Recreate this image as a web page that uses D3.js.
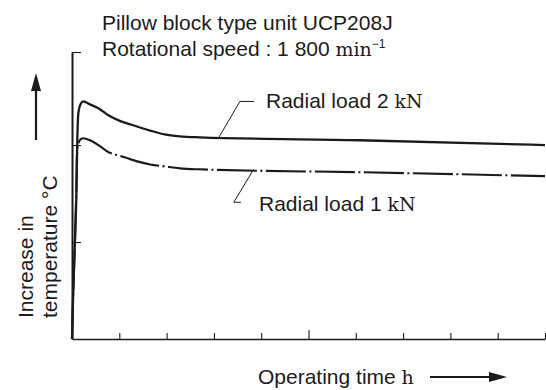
<!DOCTYPE html>
<html>
<head>
<meta charset="utf-8">
<script src="https://cdn.jsdelivr.net/npm/d3@7"></script>
<style>
  html, body { margin: 0; padding: 0; background: #fff; }
  svg { display: block; }
  .sans { font-family: "Liberation Sans", Arial, Helvetica, sans-serif; }
  .serif { font-family: "DejaVu Serif", "Liberation Serif", serif; }
</style>
</head>
<body>
<svg id="chart" width="546" height="390"></svg>
<script>
// Operating time (arbitrary units, 10 tick intervals)
const timeTicks = d3.range(0, 11);
// Temperature rise (arbitrary units); top of axis at 29.6
const tempTicks = [10, 20, 29.6];

// Radial load 2 kN
const load2Time = [0, 0.021, 0.063, 0.095, 0.112, 0.137, 0.18, 0.24, 0.38, 0.59, 0.76, 1.01, 1.26, 1.65, 1.96, 2.28, 2.70, 6.08, 10];
const load2Temp = [0, 4.0, 10.2, 15.4, 20.5, 23.4, 24.2, 24.5, 24.2, 23.7, 23.1, 22.5, 22.1, 21.5, 21.1, 20.9, 20.8, 20.5, 20.0];

// Radial load 1 kN
const load1Time = [0, 0.021, 0.063, 0.091, 0.105, 0.137, 0.18, 0.24, 0.38, 0.59, 0.76, 1.01, 1.26, 1.65, 1.96, 2.28, 2.70, 6.08, 10];
const load1Temp = [0, 4.0, 10.2, 15.4, 19.0, 20.2, 20.6, 20.7, 20.5, 19.9, 19.3, 18.9, 18.5, 18.0, 17.8, 17.6, 17.5, 17.2, 16.8];

const ink = "#1b1b1b";
const fs = 21;
const svg = d3.select("#chart");

const x = d3.scaleLinear().domain([0, 10]).range([72, 545]);
const y = d3.scaleLinear().domain([0, 29.6]).range([339, 52]);

// x axis with inward ticks, the middle one taller
const xAxis = svg.append("g")
  .attr("transform", `translate(0,${y(0)})`)
  .call(d3.axisBottom(x).tickValues(timeTicks).tickSize(-6).tickSizeOuter(0).tickFormat(""));
xAxis.select(".domain").attr("stroke", ink).attr("stroke-width", 1.6);
xAxis.selectAll(".tick line").attr("stroke", ink).attr("stroke-width", 1.1)
  .attr("y2", d => d === 5 ? -9 : -6);

// y axis with inward ticks
const yAxis = svg.append("g")
  .attr("transform", `translate(${x(0)},0)`)
  .call(d3.axisLeft(y).tickValues(tempTicks).tickSize(-9).tickSizeOuter(0).tickFormat(""));
yAxis.select(".domain").attr("stroke", ink).attr("stroke-width", 2);
yAxis.selectAll(".tick line").attr("stroke", ink).attr("stroke-width", 1.1);

// curves
const line = d3.line().x(d => x(d[0])).y(d => y(d[1])).curve(d3.curveMonotoneX);
const load2 = load2Time.map((t, i) => [t, load2Temp[i]]);
const load1 = load1Time.map((t, i) => [t, load1Temp[i]]);

svg.append("path").datum(load1).attr("d", line)
  .attr("fill", "none").attr("stroke", ink).attr("stroke-width", 2.1)
  .attr("stroke-dasharray", "40,3.5,2,3.5");
svg.append("path").datum(load2).attr("d", line)
  .attr("fill", "none").attr("stroke", ink).attr("stroke-width", 2.3);

// leader lines to the series labels
const leader = d3.line();
svg.append("path")
  .attr("d", leader([[x(3.1), y(20.75)], [x(3.55), y(24.5)], [x(3.85), y(24.5)]]))
  .attr("fill", "none").attr("stroke", ink).attr("stroke-width", 1);
svg.append("path")
  .attr("d", leader([[x(3.84), y(17.5)], [x(3.42), y(14.1)], [x(3.57), y(14.1)]]))
  .attr("fill", "none").attr("stroke", ink).attr("stroke-width", 1);

// series labels
function seriesLabel(px, py, load) {
  const t = svg.append("text").attr("class", "sans")
    .attr("x", px).attr("y", py).attr("font-size", fs).attr("fill", ink);
  t.append("tspan").text(`Radial load ${load} `);
  t.append("tspan").attr("class", "serif").attr("font-size", 19).text("kN");
}
seriesLabel(266, 108, 2);
seriesLabel(259, 211, 1);

// title
svg.append("text").attr("class", "sans")
  .attr("x", 102).attr("y", 30).attr("font-size", fs).attr("fill", ink)
  .text("Pillow block type unit UCP208J");
const sub = svg.append("text").attr("class", "sans")
  .attr("x", 102).attr("y", 56).attr("font-size", fs).attr("fill", ink);
sub.append("tspan").text("Rotational speed : 1 800 ");
sub.append("tspan").attr("class", "serif").attr("font-size", 19).text("min");
sub.append("tspan").attr("font-size", 12).attr("dy", -8).text("\u22121");

// y axis title with upward arrow
const yTitle = svg.append("g").attr("class", "sans").attr("font-size", fs).attr("fill", ink);
yTitle.append("text").attr("transform", "translate(33,318) rotate(-90)").text("Increase in");
yTitle.append("text").attr("transform", "translate(57,318) rotate(-90)").text("temperature \u00B0C");
svg.append("line").attr("x1", 36).attr("x2", 36).attr("y1", 140).attr("y2", 86)
  .attr("stroke", ink).attr("stroke-width", 2.2);
svg.append("path").attr("d", "M36,73 L41,91 L31,91 Z").attr("fill", ink);

// x axis title with rightward arrow
const xTitle = svg.append("text").attr("class", "sans")
  .attr("x", 258).attr("y", 384).attr("font-size", fs).attr("fill", ink);
xTitle.append("tspan").text("Operating time ");
xTitle.append("tspan").attr("class", "serif").attr("font-size", 19).text("h");
svg.append("line").attr("x1", 430).attr("x2", 492).attr("y1", 377).attr("y2", 377)
  .attr("stroke", ink).attr("stroke-width", 2.2);
svg.append("path").attr("d", "M507,377 L489,372 L489,382 Z").attr("fill", ink);
</script>
</body>
</html>
